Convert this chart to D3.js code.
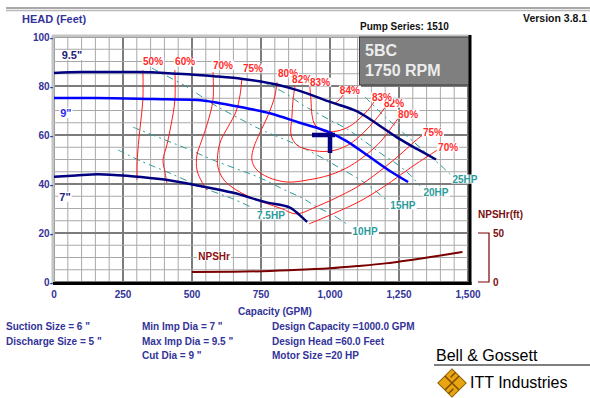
<!DOCTYPE html>
<html>
<head>
<meta charset="utf-8">
<script src="https://cdn.jsdelivr.net/npm/d3@7"></script>
<style>
  body { margin: 0; background: #fff; }
  svg text { font-family: "Liberation Sans", Arial, sans-serif; }
</style>
</head>
<body>
<svg id="chart" width="590" height="398"></svg>
<script>
// ---- data (GPM, feet) ----
const capTicks = [0, 250, 500, 750, 1000, 1250, 1500];
const capTickLabels = ["0", "250", "500", "750", "1,000", "1,250", "1,500"];
const headTicks = [0, 20, 40, 60, 80, 100];

const imp95 = [[0,85.3],[100,85.7],[300,85.7],[450,85.0],[580,84.0],[690,82.8],[810,80.5],[890,78.0],[1000,73.5],[1100,69.5],[1180,63.8],[1250,58.5],[1320,54.0],[1384,50.0]];
const imp9 = [[0,75.1],[150,75.1],[360,74.7],[520,74.3],[600,73.0],[675,71.4],[785,68.8],[890,65.0],[1000,61.0],[1060,57.5],[1134,51.8],[1217,45.3],[1283,40.8]];
const imp7 = [[0,42.9],[80,43.5],[160,44.0],[280,43.2],[400,41.8],[530,39.2],[650,36.4],[770,32.5],[855,30.4],[890,27.3],[917,24.5]];
const impLabels = [["9.5\"", 65, 92.6, "#22227a"], ["9\"", 43, 69.0, "#2a2aee"], ["7\"", 40, 34.7, "#22227a"]];

const eff50 = [[322,86.5],[322,74.3],[312,63.2],[304,53.9],[301,47.7],[301,41.6]];
const eff60 = [[438,86.5],[438,74.3],[424,64.1],[409,55.9],[395,49.8],[402,44.9],[409,40.4]];
const eff70 = [[576,85.7],[576,74.3],[554,64.1],[533,57.1],[518,51.8],[518,45.7],[536,40.8],[554,37.5]];
const eff70r = [[924,23.7],[1018,28.2],[1109,33.0],[1199,39.2],[1290,46.5],[1355,51.4],[1395,54.3]];
const eff75 = [[681,83.2],[674,76.3],[659,69.4],[630,63.2],[605,57.9],[594,53.0],[594,46.9],[616,41.6],[656,37.9],[703,35.0],[764,32.3],[826,29.9],[877,27.8],[956,31.0],[1036,35.1],[1116,40.0],[1199,46.9],[1264,53.0],[1312,57.9],[1341,60.4]];
const eff80 = [[808,81.6],[801,76.3],[790,72.2],[768,66.1],[739,59.2],[721,53.9],[717,49.8],[732,46.1],[775,42.8],[844,40.8],[917,41.6],[1000,43.7],[1072,47.3],[1134,52.2],[1185,57.5],[1221,62.8],[1250,67.3]];
const eff82 = [[873,80.0],[866,74.3],[862,67.3],[859,60.0],[880,55.9],[927,53.9],[1000,53.4],[1065,55.9],[1120,60.8],[1167,66.5],[1203,71.8]];
const eff83 = [[927,79.6],[931,74.3],[935,68.1],[946,64.1],[975,61.6],[1025,61.6],[1072,63.6],[1109,66.9],[1138,70.2],[1159,73.4]];
const eff84 = [[1047,76.3],[1033,74.3],[1014,72.6]];
const effLines = [eff50, eff60, eff70, eff70r, eff75, eff80, eff82, eff83, eff84];
const effLabels = [["50%",359,89.8],["60%",475,89.8],["70%",612,88.5],["75%",721,87.3],["80%",848,85.3],
  ["82%",899,82.8],["83%",964,81.6],["84%",1072,78.3],["82%",1232,73.0],["83%",1188,75.5],
  ["80%",1283,68.5],["75%",1373,61.2],["70%",1428,55.1]];

const hp75 = [[232,53.9],[322,49.0],[402,45.3],[485,41.2],[572,37.1],[649,33.9],[721,30.2]];
const hp10 = [[286,63.2],[366,59.6],[431,56.7],[493,53.9],[576,49.8],[663,46.1],[721,43.7],[772,41.2],[837,37.5],[899,34.3],[953,30.6],[1011,27.3],[1065,23.3]];
const hp15 = [[355,87.3],[402,84.5],[482,79.6],[576,72.6],[649,68.1],[746,62.4],[866,56.7],[953,51.8],[1036,46.5],[1127,40.4],[1210,33.0]];
const hp20 = [[757,81.6],[837,77.1],[902,72.2],[953,69.0],[1000,66.1],[1062,62.4],[1134,56.7],[1188,52.2],[1243,48.1],[1290,43.7],[1326,39.2]];
const hp25 = [[1127,75.5],[1190,68.5],[1254,62.0],[1300,57.5],[1350,52.5],[1400,47.7],[1435,44.0]];
const hpLines = [hp75, hp10, hp15, hp20, hp25];
const hpLabels = [["7.5HP",786,27.3],["10HP",1127,20.8],["15HP",1264,31.4],["20HP",1384,36.7],["25HP",1489,42.0]];

const npshr = [[500,10.2],[650,10.4],[850,12.0],[1000,14.0],[1100,16.3],[1200,19.0],[1300,22.8],[1400,27.0],[1480,30.6]];
const npshTicks = [0, 50];
const npshLabelPos = [580, 26.5];

const designQ = 1000, designH = 60;

const infoCol1 = ["Suction Size = 6 \"", "Discharge Size = 5 \""];
const infoCol2 = ["Min Imp Dia = 7 \"", "Max Imp Dia = 9.5 \"", "Cut Dia = 9 \""];
const infoCol3 = ["Design Capacity =1000.0 GPM", "Design Head =60.0 Feet", "Motor Size =20 HP"];

// ---- scales ----
const x = d3.scaleLinear().domain([0, 1500]).range([54, 468]);
const y = d3.scaleLinear().domain([0, 100]).range([282, 37]);
const yN = d3.scaleLinear().domain([0, 50]).range([y(0), y(20)]);

const svg = d3.select("#chart");
const navy = "#333399";

// header rule
svg.append("line").attr("x1", 6).attr("x2", 590).attr("y1", 8).attr("y2", 8).attr("stroke", "#8c8c8c").attr("stroke-width", 1.5);
svg.append("line").attr("x1", 6).attr("x2", 590).attr("y1", 10.5).attr("y2", 10.5).attr("stroke", "#b8b8b8").attr("stroke-width", 1.5);

svg.append("text").attr("x", 22).attr("y", 23).attr("font-size", 11).attr("font-weight", "bold").attr("fill", navy).text("HEAD (Feet)");
svg.append("text").attr("x", 360).attr("y", 30).attr("font-size", 10).attr("font-weight", "bold").attr("fill", "#111").text("Pump Series: 1510");
svg.append("text").attr("x", 523).attr("y", 22).attr("font-size", 10.5).attr("font-weight", "bold").attr("fill", "#111").text("Version 3.8.1");

// grid
const grid = svg.append("g");
grid.selectAll(".vmin").data(d3.range(0, 1501, 50)).enter().append("line")
  .attr("x1", d => x(d)).attr("x2", d => x(d)).attr("y1", y(100)).attr("y2", y(0))
  .attr("stroke", d => d % 250 === 0 ? "#7c7c7c" : "#a9a9a9")
  .attr("stroke-width", d => d % 250 === 0 ? 2 : 1);
grid.selectAll(".hmin").data(d3.range(0, 101, 5)).enter().append("line")
  .attr("x1", x(0)).attr("x2", x(1500)).attr("y1", d => y(d)).attr("y2", d => y(d))
  .attr("stroke", d => d % 20 === 0 ? "#7c7c7c" : "#a9a9a9")
  .attr("stroke-width", d => d % 20 === 0 ? 2 : 1);

// light top / left frame
svg.append("line").attr("x1", 52).attr("x2", 470).attr("y1", 36).attr("y2", 36).attr("stroke", "#c4c4c4").attr("stroke-width", 3);
svg.append("line").attr("x1", 53).attr("x2", 53).attr("y1", 35).attr("y2", 283).attr("stroke", "#c4c4c4").attr("stroke-width", 3);

// speed box
svg.append("rect").attr("x", 359.5).attr("y", 37).attr("width", 110).attr("height", 48)
  .attr("fill", "#7f7f7f").attr("stroke", "#3a3a3a").attr("stroke-width", 1);
svg.append("text").attr("x", 365).attr("y", 56).attr("font-size", 16).attr("font-weight", "bold").attr("fill", "#ececec").text("5BC");
svg.append("text").attr("x", 365).attr("y", 76).attr("font-size", 16).attr("font-weight", "bold").attr("fill", "#ececec").text("1750 RPM");

// lines
const smooth = d3.line().x(d => x(d[0])).y(d => y(d[1])).curve(d3.curveCatmullRom.alpha(0.5));
const mono = d3.line().x(d => x(d[0])).y(d => y(d[1])).curve(d3.curveMonotoneX);

svg.append("path").datum(npshr)
  .attr("d", d3.line().x(d => x(d[0])).y(d => yN(d[1])).curve(d3.curveMonotoneX))
  .attr("fill", "none").attr("stroke", "#7a0000").attr("stroke-width", 2);

svg.append("g").selectAll("path").data(hpLines).enter().append("path")
  .attr("d", smooth).attr("fill", "none").attr("stroke", "#2f9a9a")
  .attr("stroke-width", 1).attr("stroke-dasharray", "7,4,2,4");

svg.append("g").selectAll("path").data(effLines).enter().append("path")
  .attr("d", smooth).attr("fill", "none").attr("stroke", "#ff1a1a").attr("stroke-width", 1);

svg.append("path").datum(imp7).attr("d", mono).attr("fill", "none").attr("stroke", "#000080").attr("stroke-width", 2.5);
svg.append("path").datum(imp9).attr("d", mono).attr("fill", "none").attr("stroke", "#0000ff").attr("stroke-width", 2.5);
svg.append("path").datum(imp95).attr("d", mono).attr("fill", "none").attr("stroke", "#000080").attr("stroke-width", 2.5);

// plot frame: dark right / bottom
svg.append("line").attr("x1", 470).attr("x2", 470).attr("y1", 35).attr("y2", 285).attr("stroke", "#000").attr("stroke-width", 3);
svg.append("line").attr("x1", 53).attr("x2", 471.5).attr("y1", 283.5).attr("y2", 283.5).attr("stroke", "#000").attr("stroke-width", 3);

// design point marker
const dp = [x(designQ), y(designH)];
svg.append("path").attr("d", `M${dp[0] - 18},${dp[1]}H${dp[0] + 5}M${dp[0]},${dp[1] - 2}V${dp[1] + 18}`)
  .attr("stroke", "#000080").attr("stroke-width", 4.5).attr("fill", "none");

// boxed labels
function boxLabel(g, txt, px, py, color, size) {
  const t = g.append("text").attr("x", px).attr("y", py).attr("text-anchor", "middle").attr("dy", "0.35em")
    .attr("font-size", size).attr("font-weight", "bold").attr("fill", color).text(txt);
  const b = t.node().getBBox();
  g.insert("rect", () => t.node()).attr("x", b.x - 1).attr("y", b.y + 1).attr("width", b.width + 2).attr("height", b.height - 2).attr("fill", "#fff");
}
const labs = svg.append("g");
effLabels.forEach(d => boxLabel(labs, d[0], x(d[1]), y(d[2]), "#ff2a2a", 10));
hpLabels.forEach(d => boxLabel(labs, d[0], x(d[1]), y(d[2]), "#2a9a9a", 10));
impLabels.forEach(d => boxLabel(labs, d[0], x(d[1]), y(d[2]), d[3], 11));
boxLabel(labs, "NPSHr", x(npshLabelPos[0]), yN(npshLabelPos[1]), "#8b1010", 10);

// axes labels
svg.append("g").selectAll("text").data(headTicks).enter().append("text")
  .attr("x", 53).attr("y", d => y(d)).attr("dy", "0.35em").attr("text-anchor", "end")
  .attr("font-size", 10).attr("font-weight", "bold").attr("fill", navy).text(d => d + "-");
svg.append("g").selectAll("text").data(capTicks).enter().append("text")
  .attr("x", d => x(d)).attr("y", 298).attr("text-anchor", "middle")
  .attr("font-size", 10).attr("font-weight", "bold").attr("fill", navy).text((d, i) => capTickLabels[i]);
svg.append("text").attr("x", 275).attr("y", 315).attr("text-anchor", "middle")
  .attr("font-size", 10).attr("font-weight", "bold").attr("fill", navy).text("Capacity (GPM)");

// NPSHr axis
const nx = 489;
svg.append("path").attr("d", `M478,${yN(50)}H${nx}V${yN(0)}H478`).attr("fill", "none").attr("stroke", "#7a0000").attr("stroke-width", 1.2);
svg.append("g").selectAll("text").data(npshTicks).enter().append("text")
  .attr("x", 493).attr("y", d => yN(d)).attr("dy", "0.35em")
  .attr("font-size", 10).attr("font-weight", "bold").attr("fill", "#7a1010").text(d => d);
svg.append("text").attr("x", 478).attr("y", 218).attr("font-size", 10).attr("font-weight", "bold").attr("fill", "#7a1010").text("NPSHr(ft)");

// info block
const info = svg.append("g").attr("font-size", 10).attr("font-weight", "bold").attr("fill", navy);
[[infoCol1, 6], [infoCol2, 142], [infoCol3, 272]].forEach(([col, cx]) => {
  col.forEach((s, i) => info.append("text").attr("x", cx).attr("y", 330 + i * 14.5).text(s));
});

// logo
svg.append("text").attr("x", 436).attr("y", 361).attr("font-family", "DejaVu Sans").attr("font-size", 16).attr("fill", "#000").text("Bell & Gossett");
svg.append("line").attr("x1", 434).attr("x2", 590).attr("y1", 365).attr("y2", 365).attr("stroke", "#000").attr("stroke-width", 1);
svg.append("text").attr("x", 470).attr("y", 388).attr("font-family", "DejaVu Sans").attr("font-size", 16).attr("fill", "#000").text("ITT Industries");
const logo = svg.append("g").attr("transform", "translate(452,383) rotate(45)");
logo.append("rect").attr("x", -10).attr("y", -10).attr("width", 20).attr("height", 20).attr("fill", "#e9a411").attr("stroke", "#8a5a00").attr("stroke-width", 1);
logo.append("path").attr("d", "M-10,0H10M0,-10V10M-5,-10V-3M5,3V10").attr("stroke", "#7a4a00").attr("stroke-width", 1.4);
</script>
</body>
</html>
